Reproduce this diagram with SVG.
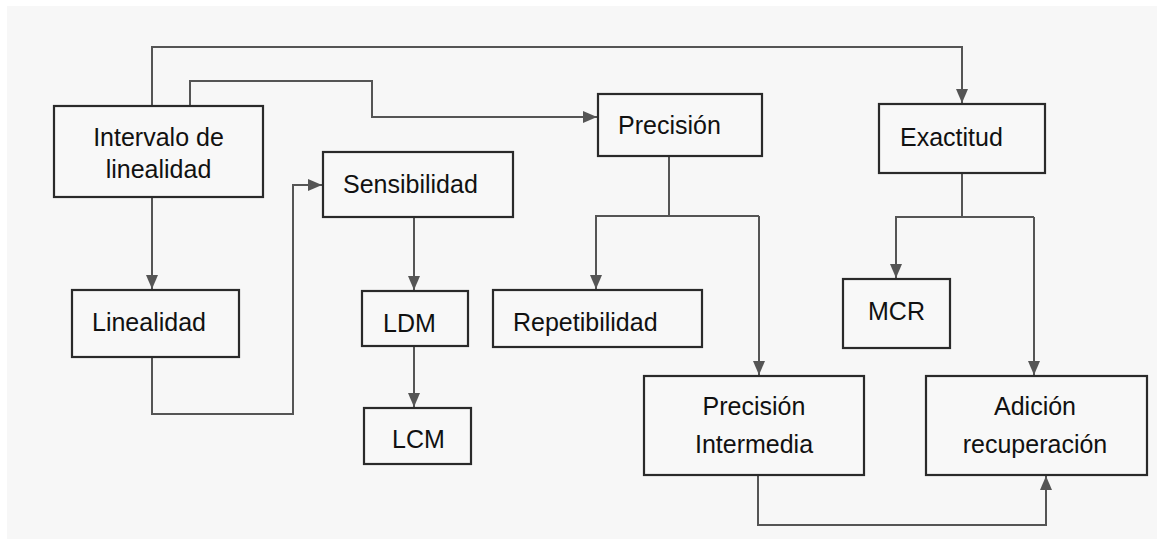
<svg xmlns="http://www.w3.org/2000/svg" width="1157" height="539" viewBox="0 0 1157 539">
<style>
.box{fill:#f8f8f8;stroke:#2a2a2a;stroke-width:2.2}
.lbl{font-family:"Liberation Sans",Arial,Helvetica,sans-serif;font-size:25px;fill:#111}
.c{text-anchor:middle}
.conn path{fill:none;stroke:#555;stroke-width:2}
</style>
<defs>
<marker id="ah" viewBox="0 0 14 12" refX="14" refY="6" markerWidth="14" markerHeight="12" markerUnits="userSpaceOnUse" orient="auto">
<path d="M0,0 L14,6 L0,12 Z" fill="#555"/>
</marker>
</defs>
<rect x="0" y="0" width="1157" height="539" fill="#ffffff"/>
<rect x="7" y="6" width="1150" height="533" fill="#f7f7f7"/>
<g class="conn">
<path d="M152,106 V47 H962 V103" marker-end="url(#ah)"/>
<path d="M190,106 V81 H372 V117 H597" marker-end="url(#ah)"/>
<path d="M152,197 V289" marker-end="url(#ah)"/>
<path d="M152,357 V414 H293 V185 H322" marker-end="url(#ah)"/>
<path d="M414,217 V290" marker-end="url(#ah)"/>
<path d="M414,347 V407" marker-end="url(#ah)"/>
<path d="M669,156 V216"/>
<path d="M759,216 H596 V289" marker-end="url(#ah)"/>
<path d="M759,216 V375" marker-end="url(#ah)"/>
<path d="M962,173 V217"/>
<path d="M1034,217 H896 V278" marker-end="url(#ah)"/>
<path d="M1034,217 V375" marker-end="url(#ah)"/>
<path d="M758,475 V525 H1046 V476" marker-end="url(#ah)"/>
</g>
<g id="intervalo">
<rect class="box" x="54" y="106" width="209" height="91"/>
<text class="lbl c" x="158.5" y="146">Intervalo de</text>
<text class="lbl c" x="158.5" y="178">linealidad</text>
</g>
<g id="sensibilidad">
<rect class="box" x="323" y="152" width="190" height="65"/>
<text class="lbl" x="343" y="193">Sensibilidad</text>
</g>
<g id="precision">
<rect class="box" x="598" y="94" width="164" height="62"/>
<text class="lbl" x="618" y="134">Precisión</text>
</g>
<g id="exactitud">
<rect class="box" x="879" y="104" width="166" height="69"/>
<text class="lbl" x="900" y="146">Exactitud</text>
</g>
<g id="linealidad">
<rect class="box" x="72" y="290" width="167" height="67"/>
<text class="lbl" x="92" y="331">Linealidad</text>
</g>
<g id="ldm">
<rect class="box" x="362" y="291" width="106" height="55"/>
<text class="lbl" x="383" y="332">LDM</text>
</g>
<g id="lcm">
<rect class="box" x="364" y="408" width="107" height="56"/>
<text class="lbl" x="392" y="448">LCM</text>
</g>
<g id="repetibilidad">
<rect class="box" x="493" y="290" width="209" height="57"/>
<text class="lbl" x="513" y="331">Repetibilidad</text>
</g>
<g id="precision-intermedia">
<rect class="box" x="644" y="376" width="220" height="99"/>
<text class="lbl c" x="754" y="415">Precisión</text>
<text class="lbl c" x="754" y="453">Intermedia</text>
</g>
<g id="mcr">
<rect class="box" x="843" y="279" width="107" height="69"/>
<text class="lbl" x="868" y="320">MCR</text>
</g>
<g id="adicion">
<rect class="box" x="926" y="376" width="221" height="99"/>
<text class="lbl c" x="1035" y="415">Adición</text>
<text class="lbl c" x="1035" y="453">recuperación</text>
</g>
</svg>
